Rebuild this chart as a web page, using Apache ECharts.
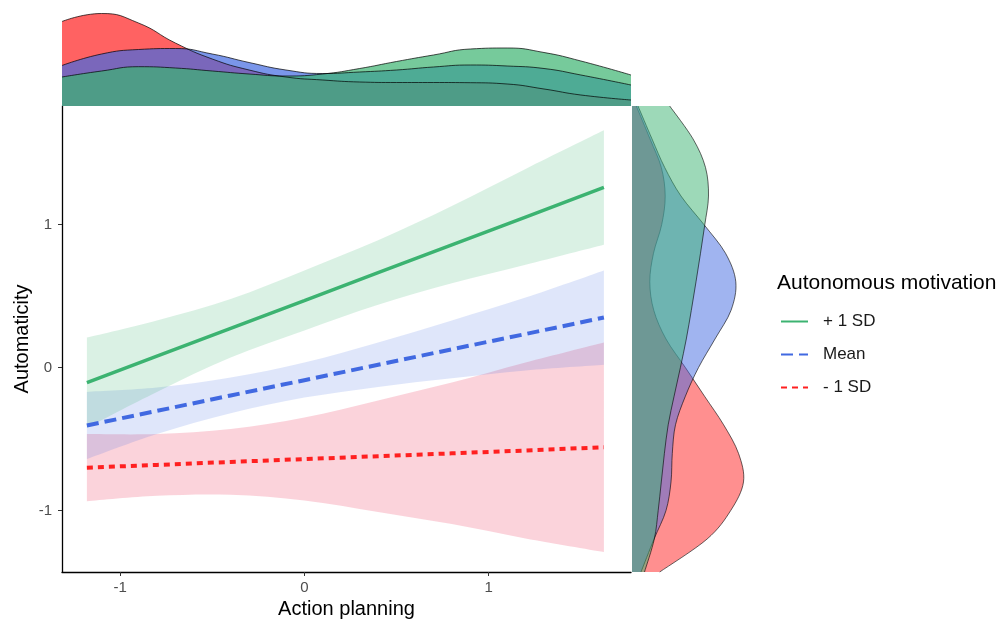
<!DOCTYPE html>
<html><head><meta charset="utf-8">
<script src="https://cdn.jsdelivr.net/npm/echarts@6/dist/echarts.min.js"></script>
<style>html,body{margin:0;padding:0;background:#fff}#chart{width:1003px;height:623px}</style>
</head><body><div id="chart"></div>
<script>
// ---- main panel: fitted lines and confidence bands ----
const bandX      = [-1.18, -0.8, -0.4, 0, 0.4, 0.8, 1.2, 1.625];
const greenFit   = [-0.105, 0.080, 0.275, 0.469, 0.664, 0.859, 1.053, 1.26];
const greenUpper = [0.21, 0.33, 0.48, 0.68, 0.89, 1.13, 1.39, 1.66];
const greenLower = [-0.42, -0.17, 0.07, 0.26, 0.44, 0.59, 0.72, 0.86];
const blueFit    = [-0.405, -0.303, -0.195, -0.088, 0.02, 0.128, 0.235, 0.35];
const blueUpper  = [-0.17, -0.14, -0.07, 0.035, 0.175, 0.33, 0.49, 0.68];
const blueLower  = [-0.64, -0.465, -0.32, -0.21, -0.135, -0.075, -0.02, 0.02];
const redFit     = [-0.70, -0.681, -0.66, -0.64, -0.62, -0.60, -0.58, -0.557];
const redUpper   = [-0.465, -0.465, -0.43, -0.35, -0.23, -0.105, 0.035, 0.175];
const redLower   = [-0.935, -0.897, -0.89, -0.93, -1.01, -1.095, -1.195, -1.29];

// ---- top marginal densities (Action planning) ----
const topX     = [-1.315, -1.1, -0.9, -0.7, -0.5, -0.3, -0.1, 0.1, 0.3, 0.5, 0.7, 0.9, 1.1, 1.3, 1.5, 1.772];
const topRed   = [0.845, 0.925, 0.83, 0.63, 0.47, 0.36, 0.29, 0.26, 0.24, 0.235, 0.235, 0.233, 0.22, 0.17, 0.11, 0.06];
const topBlue  = [0.405, 0.52, 0.565, 0.575, 0.52, 0.435, 0.36, 0.325, 0.34, 0.36, 0.39, 0.41, 0.40, 0.375, 0.31, 0.21];
const topGreen = [0.29, 0.35, 0.393, 0.38, 0.35, 0.32, 0.30, 0.32, 0.375, 0.445, 0.51, 0.57, 0.58, 0.535, 0.45, 0.31];

// ---- right marginal densities (Automaticity) ----
const rightY     = [1.83, 1.6, 1.4, 1.2, 1.0, 0.8, 0.6, 0.4, 0.2, 0.0, -0.2, -0.4, -0.6, -0.8, -1.0, -1.2, -1.43];
const rightGreen = [0.377, 0.61, 0.735, 0.765, 0.728, 0.685, 0.64, 0.593, 0.543, 0.484, 0.421, 0.362, 0.324, 0.293, 0.262, 0.223, 0.125];
const rightBlue  = [0.06, 0.20, 0.327, 0.49, 0.72, 0.935, 1.038, 0.99, 0.83, 0.665, 0.534, 0.435, 0.403, 0.39, 0.34, 0.22, 0.09];
const rightRed   = [0.043, 0.18, 0.293, 0.332, 0.297, 0.215, 0.178, 0.218, 0.34, 0.534, 0.725, 0.916, 1.065, 1.115, 0.987, 0.75, 0.277];

// ---- ticks / labels ----
const xTicks = [-1, 0, 1];
const yTicks = [-1, 0, 1];
const groupNames = ['+ 1 SD', 'Mean', '- 1 SD'];

const GREEN = '#3CB371', BLUE = '#4169E1', RED = '#FF2020';
function rgba(hex, a) {
  const n = parseInt(hex.slice(1), 16);
  return 'rgba(' + (n >> 16) + ',' + ((n >> 8) & 255) + ',' + (n & 255) + ',' + a + ')';
}

function curvePath(pts) {
  let d = '';
  for (let i = 0; i < pts.length - 1; i++) {
    const p0 = pts[i - 1] || pts[i], p1 = pts[i], p2 = pts[i + 1], p3 = pts[i + 2] || p2;
    const c1x = p1[0] + (p2[0] - p0[0]) / 6, c1y = p1[1] + (p2[1] - p0[1]) / 6;
    const c2x = p2[0] - (p3[0] - p1[0]) / 6, c2y = p2[1] - (p3[1] - p1[1]) / 6;
    d += ' C' + c1x + ' ' + c1y + ' ' + c2x + ' ' + c2y + ' ' + p2[0] + ' ' + p2[1];
  }
  return d;
}

function band(lower, upper, color) {
  return { type: 'custom', coordinateSystem: 'cartesian2d', xAxisIndex: 0, yAxisIndex: 0,
    data: bandX.map((x, i) => [x, lower[i], upper[i]]), silent: true,
    encode: { x: 0, y: [1, 2] },
    renderItem: function (params, api) {
      if (params.dataIndex !== 0) return null;
      const up = bandX.map((x, i) => api.coord([x, upper[i]]));
      const lo = bandX.map((x, i) => api.coord([x, lower[i]])).reverse();
      const d = 'M' + up[0][0] + ' ' + up[0][1] + curvePath(up) +
                ' L' + lo[0][0] + ' ' + lo[0][1] + curvePath(lo) + ' Z';
      return { type: 'path', shape: { pathData: d }, style: { fill: color, stroke: null } };
    } };
}

function fitLine(name, vals, color, width, type) {
  return { name: name, type: 'line', xAxisIndex: 0, yAxisIndex: 0,
    data: bandX.map((x, i) => [x, vals[i]]), symbol: 'none',
    lineStyle: { color: color, width: width, type: type, cap: 'butt' },
    itemStyle: { color: color }, z: 5 };
}

function topDensity(vals, color) {
  return { type: 'line', xAxisIndex: 1, yAxisIndex: 1,
    data: topX.map((x, i) => [x, vals[i]]), symbol: 'none', smooth: 0.5,
    lineStyle: { color: '#000', width: 0.7 }, areaStyle: { color: rgba(color, 0.7), opacity: 1 }, silent: true };
}

function rightDensity(vals, color) {
  return { type: 'custom', coordinateSystem: 'cartesian2d', xAxisIndex: 2, yAxisIndex: 2,
    data: vals.map((w, i) => [w, rightY[i]]), silent: true,
    renderItem: function (params, api) {
      if (params.dataIndex !== 0) return null;
      const pts = vals.map((w, i) => api.coord([w, rightY[i]]));
      const b0 = api.coord([0, rightY[0]]);
      const b1 = api.coord([0, rightY[rightY.length - 1]]);
      const c = curvePath(pts);
      return { type: 'group', children: [
        { type: 'path', shape: { pathData: 'M' + b0[0] + ' ' + b0[1] + ' L' + pts[0][0] + ' ' + pts[0][1] + c + ' L' + b1[0] + ' ' + b1[1] + ' Z' },
          style: { fill: rgba(color, 0.5), stroke: null } },
        { type: 'path', shape: { pathData: 'M' + pts[0][0] + ' ' + pts[0][1] + c },
          style: { fill: null, stroke: '#000', lineWidth: 0.6 } }
      ] };
    } };
}

const chart = echarts.init(document.getElementById('chart'), null, { renderer: 'canvas' });
const FONT = 'Liberation Sans, Arial, sans-serif';
chart.setOption({
  animation: false,
  backgroundColor: '#fff',
  textStyle: { fontFamily: FONT },
  title: { text: 'Autonomous motivation', left: 777, top: 273, padding: 0,
    textStyle: { fontSize: 21, fontWeight: 'normal', color: '#000', fontFamily: FONT } },
  legend: { data: groupNames, orient: 'vertical', left: 780, top: 313, padding: 0,
    itemWidth: 27, itemHeight: 14, itemGap: 16,
    itemStyle: { opacity: 0 },
    textStyle: { fontSize: 17, color: '#1a1a1a', lineHeight: 17, padding: [0, 0, 0, 10], fontFamily: FONT } },
  grid: [
    { left: 62, top: 106, width: 569, height: 466, outerBoundsMode: 'none', containLabel: false },
    { left: 62, top: 6, width: 569, height: 100, outerBoundsMode: 'none', containLabel: false },
    { left: 632, top: 106, width: 120, height: 466, outerBoundsMode: 'none', containLabel: false }
  ],
  xAxis: [
    { gridIndex: 0, type: 'value', min: -1.315, max: 1.772,
      axisLine: { onZero: false, lineStyle: { color: '#000', width: 1.3 } },
      axisTick: { customValues: xTicks, length: 4, lineStyle: { color: '#333', width: 1 } },
      axisLabel: { customValues: xTicks, color: '#4d4d4d', fontSize: 15, margin: 8 },
      splitLine: { show: false },
      name: 'Action planning', nameLocation: 'middle', nameGap: 26,
      nameTextStyle: { fontSize: 20, color: '#000' } },
    { gridIndex: 1, type: 'value', min: -1.315, max: 1.772, show: false },
    { gridIndex: 2, type: 'value', min: 0, max: 1.2, show: false }
  ],
  yAxis: [
    { gridIndex: 0, type: 'value', min: -1.43, max: 1.83,
      axisLine: { onZero: false, lineStyle: { color: '#000', width: 1.3 } },
      axisTick: { customValues: yTicks, length: 4, lineStyle: { color: '#333', width: 1 } },
      axisLabel: { customValues: yTicks, color: '#4d4d4d', fontSize: 15, margin: 10 },
      splitLine: { show: false },
      name: 'Automaticity', nameLocation: 'middle', nameGap: 30, nameMoveOverlap: false,
      nameTextStyle: { fontSize: 20, color: '#000' } },
    { gridIndex: 1, type: 'value', min: 0, max: 1.0, show: false },
    { gridIndex: 2, type: 'value', min: -1.43, max: 1.83, show: false }
  ],
  series: [
    topDensity(topRed, RED), topDensity(topBlue, BLUE), topDensity(topGreen, GREEN),
    rightDensity(rightRed, RED), rightDensity(rightBlue, BLUE), rightDensity(rightGreen, GREEN),
    band(redLower, redUpper, 'rgba(240,80,110,0.25)'),
    band(blueLower, blueUpper, 'rgba(65,105,225,0.17)'),
    band(greenLower, greenUpper, 'rgba(60,179,113,0.19)'),
    fitLine(groupNames[0], greenFit, GREEN, 3.5, 'solid'),
    fitLine(groupNames[1], blueFit, BLUE, 4, [12, 6]),
    fitLine(groupNames[2], redFit, RED, 4, [6, 5])
  ]
});
</script></body></html>
